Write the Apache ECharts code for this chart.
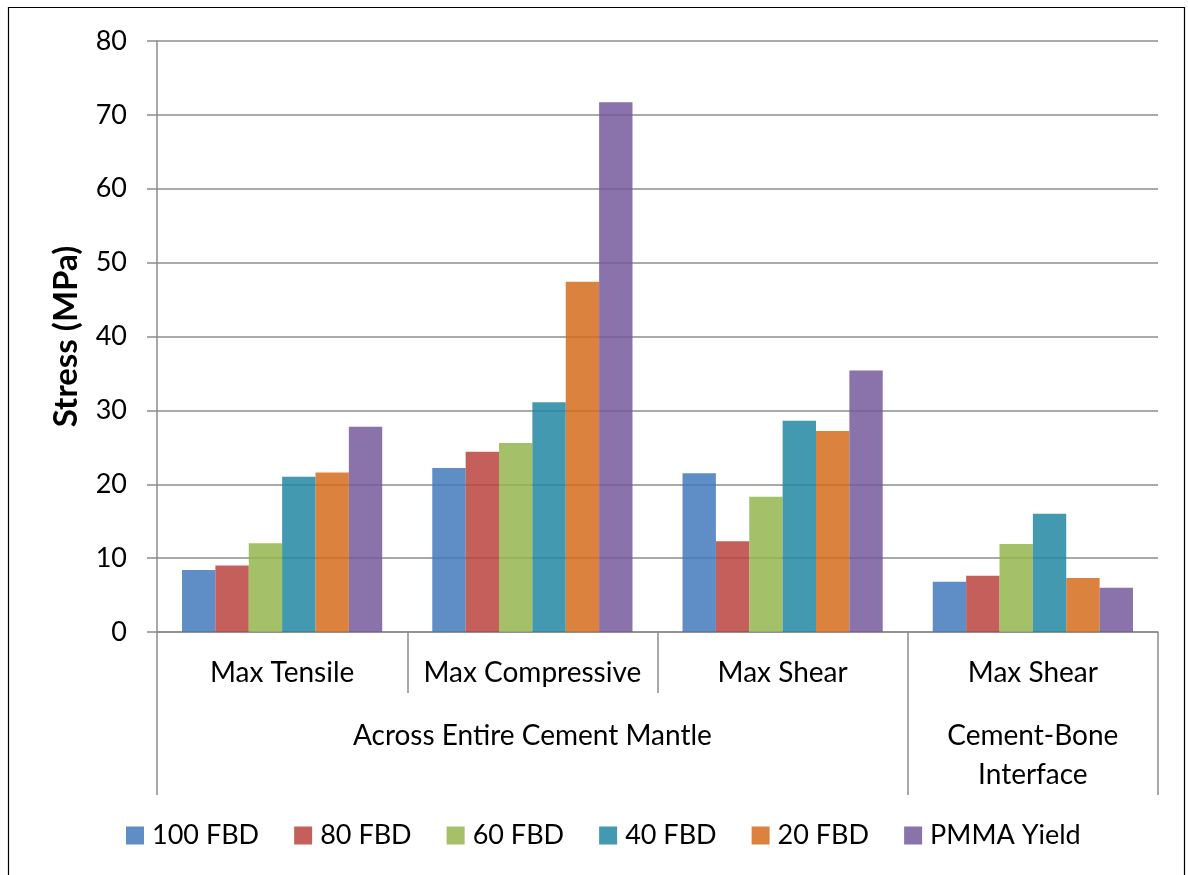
<!DOCTYPE html>
<html>
<head>
<meta charset="utf-8">
<script src="https://cdn.jsdelivr.net/npm/echarts@6/dist/echarts.min.js"></script>
<style>
  html, body { margin: 0; padding: 0; background: #fff; }
  #chart { width: 1188px; height: 875px; }
</style>
</head>
<body>
<div id="chart"></div>
<script>
// Stress categories (inner level of the category axis)
const categories = ['Max Tensile', 'Max Compressive', 'Max Shear', 'Max Shear'];
// Outer grouping labels (first three belong to the mantle, last to the interface)
const groupLabels = ['Across Entire Cement Mantle', 'Cement-Bone\nInterface'];
const yTicks = [0, 10, 20, 30, 40, 50, 60, 70, 80];

// Stress values, MPa
const fbd100 = [8.4, 22.2, 21.5, 6.8];
const fbd80  = [9.0, 24.4, 12.3, 7.6];
const fbd60  = [12.0, 25.6, 18.3, 11.9];
const fbd40  = [21.0, 31.1, 28.6, 16.0];
const fbd20  = [21.6, 47.4, 27.2, 7.3];
const pmmaYield = [27.8, 71.7, 35.4, 6.0];

const seriesNames = ['100 FBD', '80 FBD', '60 FBD', '40 FBD', '20 FBD', 'PMMA Yield'];
const seriesData = [fbd100, fbd80, fbd60, fbd40, fbd20, pmmaYield];
const colors = ['#4379BB', '#BA433F', '#94B54D', '#2287A2', '#D56D1C', '#765A9C'];

const FONT = 'Lato, "Open Sans", sans-serif';
const GRAY = '#8c8c8c';

const chart = echarts.init(document.getElementById('chart'), null, { renderer: 'canvas' });

chart.setOption({
  animation: false,
  backgroundColor: '#fff',
  textStyle: { fontFamily: FONT },
  graphic: [{
    type: 'rect',
    shape: { x: 8.5, y: 7.5, width: 1176, height: 890 },
    style: { fill: 'none', stroke: '#000', lineWidth: 1.2 },
    silent: true,
    z: 0
  }],
  grid: { left: 157, right: 30, top: 41, bottom: 243, containLabel: false },
  legend: {
    bottom: 26,
    left: 126,
    padding: 0,
    itemWidth: 18,
    itemHeight: 18,
    itemGap: 35,
    icon: 'rect',
    textStyle: { fontSize: 27, color: '#000', fontFamily: FONT, padding: [0, 0, 0, 3] },
    data: seriesNames
  },
  xAxis: [{
    type: 'category',
    data: categories,
    axisLine: { show: true, lineStyle: { color: GRAY, width: 1.5 } },
    axisTick: { show: true, interval: 0, alignWithLabel: false, length: 61, lineStyle: { color: GRAY, width: 1.5 } },
    axisLabel: { interval: 0, fontSize: 28, color: '#000', margin: 27, fontFamily: FONT },
    splitLine: { show: false }
  }, {
    type: 'value',
    min: 0,
    max: 4,
    position: 'bottom',
    offset: 61,
    axisLine: { show: false },
    splitLine: { show: false },
    axisTick: { show: true, customValues: [0, 3, 4], length: 102, lineStyle: { color: GRAY, width: 1.5 } },
    axisLabel: {
      customValues: [1.5, 3.5],
      formatter: v => (v < 3 ? groupLabels[0] : groupLabels[1]),
      fontSize: 28,
      lineHeight: 39,
      color: '#000',
      margin: 23,
      verticalAlign: 'top',
      fontFamily: FONT
    }
  }],
  yAxis: {
    type: 'value',
    min: yTicks[0],
    max: yTicks[yTicks.length - 1],
    interval: 10,
    name: 'Stress (MPa)',
    nameLocation: 'middle',
    nameRotate: 90,
    nameGap: 74,
    nameTextStyle: { fontSize: 33, fontWeight: 'bold', color: '#000', fontFamily: FONT },
    axisLine: { show: true, lineStyle: { color: GRAY, width: 1.5 } },
    axisTick: { show: true, length: 10, lineStyle: { color: GRAY, width: 1.5 } },
    axisLabel: { fontSize: 27, color: '#000', margin: 30, fontFamily: FONT },
    splitLine: { show: true, lineStyle: { color: GRAY, width: 1.5 } }
  },
  series: seriesNames.map((name, i) => ({
    name,
    type: 'bar',
    xAxisIndex: 0,
    data: seriesData[i],
    barGap: '0%',
    barCategoryGap: '20%',
    itemStyle: { color: colors[i], opacity: 0.85 }
  }))
});
</script>
</body>
</html>
